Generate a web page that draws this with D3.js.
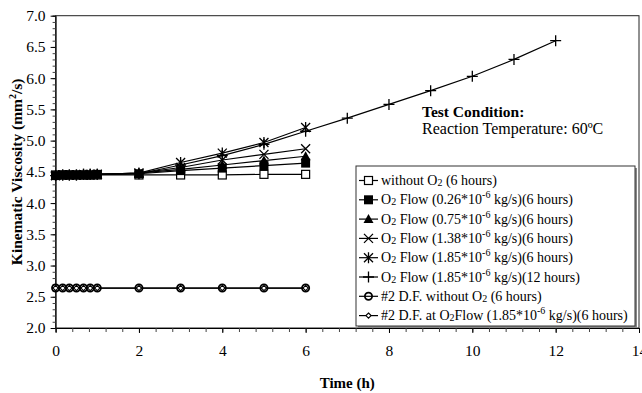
<!DOCTYPE html>
<html>
<head>
<meta charset="utf-8">
<script src="https://cdn.jsdelivr.net/npm/d3@7"></script>
<style>
  html, body { margin: 0; padding: 0; background: #fff; }
  svg { display: block; font-family: "Liberation Serif", "Times New Roman", serif; }
</style>
</head>
<body>
<svg id="chart" width="642" height="393"></svg>
<script>
// Sampling times (hours)
const timeShort = [0, 0.17, 0.33, 0.5, 0.67, 0.83, 1, 2, 3, 4, 5, 6];
const timeLong = [0, 0.17, 0.33, 0.5, 0.67, 0.83, 1, 2, 3, 4, 5, 6, 7, 8, 9, 10, 11, 12];

// Kinematic viscosity (mm^2/s)
const withoutO2   = [4.45, 4.45, 4.45, 4.45, 4.45, 4.45, 4.45, 4.45, 4.45, 4.45, 4.46, 4.46];
const flow026     = [4.44, 4.45, 4.45, 4.45, 4.45, 4.45, 4.46, 4.47, 4.52, 4.56, 4.60, 4.64];
const flow075     = [4.44, 4.45, 4.45, 4.45, 4.45, 4.46, 4.46, 4.48, 4.54, 4.61, 4.68, 4.75];
const flow138     = [4.44, 4.45, 4.45, 4.45, 4.45, 4.46, 4.46, 4.48, 4.57, 4.69, 4.78, 4.87];
const flow185     = [4.44, 4.45, 4.45, 4.45, 4.46, 4.46, 4.46, 4.48, 4.65, 4.80, 4.97, 5.21];
const flow185Long = [4.44, 4.45, 4.45, 4.45, 4.46, 4.46, 4.46, 4.47, 4.61, 4.76, 4.94, 5.15, 5.36, 5.58, 5.80, 6.03, 6.30, 6.60];
const dfWithoutO2 = [2.64, 2.64, 2.64, 2.64, 2.64, 2.64, 2.64, 2.64, 2.64, 2.64, 2.64, 2.64];
const dfFlow185   = [2.64, 2.64, 2.64, 2.64, 2.64, 2.64, 2.64, 2.64, 2.64, 2.64, 2.64, 2.64];

const xTicks = [0, 2, 4, 6, 8, 10, 12, 14];
const yTicks = [2.0, 2.5, 3.0, 3.5, 4.0, 4.5, 5.0, 5.5, 6.0, 6.5, 7.0];

// legend entries: [prefix, subscript, middle, superscript, suffix]
const series = [
  { x: timeShort, y: withoutO2,   marker: "squareOpen", label: ["without O", "2", " (6 hours)", "", ""] },
  { x: timeShort, y: flow026,     marker: "squareFill", label: ["O", "2", " Flow (0.26*10", "-6", " kg/s)(6 hours)"] },
  { x: timeShort, y: flow075,     marker: "triangle",   label: ["O", "2", " Flow (0.75*10", "-6", " kg/s)(6 hours)"] },
  { x: timeShort, y: flow138,     marker: "cross",      label: ["O", "2", " Flow (1.38*10", "-6", " kg/s)(6 hours)"] },
  { x: timeShort, y: flow185,     marker: "star",       label: ["O", "2", " Flow (1.85*10", "-6", " kg/s)(6 hours)"] },
  { x: timeLong,  y: flow185Long, marker: "plus",       label: ["O", "2", " Flow (1.85*10", "-6", " kg/s)(12 hours)"] },
  { x: timeShort, y: dfWithoutO2, marker: "circle",     label: ["#2 D.F. without O", "2", " (6 hours)", "", ""] },
  { x: timeShort, y: dfFlow185,   marker: "diamond",    label: ["#2 D.F. at O", "2", "Flow (1.85*10", "-6", " kg/s)(6 hours)"] }
];

const svg = d3.select("#chart");
const plotLeft = 55.6, plotRight = 639, plotTop = 15.7, plotBottom = 328;

const x = d3.scaleLinear().domain([0, 14]).range([plotLeft, plotRight]);
const y = d3.scaleLinear().domain([2, 7]).range([plotBottom, plotTop]);

// plot frame
svg.append("rect")
  .attr("x", plotLeft).attr("y", plotTop)
  .attr("width", plotRight - plotLeft).attr("height", plotBottom - plotTop)
  .attr("fill", "none").attr("stroke", "#222").attr("stroke-width", 1);

// y axis: minor ticks every 0.1, labels every 0.5
const yAxisMinor = d3.axisLeft(y).tickValues(d3.range(20, 71).map(d => d / 10)).tickSize(3).tickFormat("");
svg.append("g").attr("transform", `translate(${plotLeft},0)`).call(yAxisMinor)
  .call(g => g.select(".domain").attr("stroke", "#000"))
  .call(g => g.selectAll(".tick line").attr("stroke", "#444"));
const yAxis = d3.axisLeft(y).tickValues(yTicks).tickSize(5).tickPadding(5).tickFormat(d3.format(".1f"));
svg.append("g").attr("transform", `translate(${plotLeft},0)`).call(yAxis)
  .call(g => g.select(".domain").remove())
  .call(g => g.selectAll("text").attr("font-size", 15.5).attr("font-family", "Liberation Serif").attr("fill", "#000"));

// x axis: minor ticks every 0.4, labels every 2
const xAxisMinor = d3.axisBottom(x).tickValues(d3.range(0, 36).map(d => d * 0.4)).tickSize(4).tickFormat("");
svg.append("g").attr("transform", `translate(0,${plotBottom})`).call(xAxisMinor)
  .call(g => g.select(".domain").attr("stroke", "#000"))
  .call(g => g.selectAll(".tick line").attr("stroke", "#444"));
const xAxis = d3.axisBottom(x).tickValues(xTicks).tickSize(5).tickPadding(12).tickFormat(d3.format("d"));
svg.append("g").attr("transform", `translate(0,${plotBottom})`).call(xAxis)
  .call(g => g.select(".domain").remove())
  .call(g => g.selectAll("text").attr("font-size", 15.5).attr("font-family", "Liberation Serif").attr("fill", "#000"));

// axis titles
svg.append("text")
  .attr("x", (plotLeft + plotRight) / 2).attr("y", 388)
  .attr("text-anchor", "middle").attr("font-weight", "bold").attr("font-size", 15)
  .text("Time (h)");

const yTitle = svg.append("text")
  .attr("transform", `translate(22,${(plotTop + plotBottom) / 2}) rotate(-90)`)
  .attr("text-anchor", "middle").attr("font-weight", "bold").attr("font-size", 15.5);
yTitle.append("tspan").text("Kinematic Viscosity (mm");
yTitle.append("tspan").attr("font-size", 10).attr("dy", -6).text("2");
yTitle.append("tspan").attr("dy", 6).text("/s)");

// marker drawing
function drawMarker(g, type, cx, cy) {
  const k = g.append("g").attr("transform", `translate(${cx},${cy})`);
  switch (type) {
    case "squareOpen":
      k.append("rect").attr("x", -4).attr("y", -4).attr("width", 8).attr("height", 8)
        .attr("fill", "#fff").attr("stroke", "#000").attr("stroke-width", 1.2);
      break;
    case "squareFill":
      k.append("rect").attr("x", -4.5).attr("y", -4.5).attr("width", 9).attr("height", 9).attr("fill", "#000");
      break;
    case "triangle":
      k.append("path").attr("d", "M0,-5L5,4L-5,4Z").attr("fill", "#000");
      break;
    case "cross":
      k.append("path").attr("d", "M-4.5,-4.5L4.5,4.5M-4.5,4.5L4.5,-4.5")
        .attr("stroke", "#000").attr("stroke-width", 1.3);
      break;
    case "star":
      k.append("path").attr("d", "M-4.5,-4.5L4.5,4.5M-4.5,4.5L4.5,-4.5M0,-5.5L0,5.5")
        .attr("stroke", "#000").attr("stroke-width", 1.3);
      break;
    case "plus":
      k.append("path").attr("d", "M-5.5,0L5.5,0M0,-5.5L0,5.5")
        .attr("stroke", "#000").attr("stroke-width", 1.3);
      break;
    case "circle":
      k.append("circle").attr("r", 3.6).attr("fill", "none")
        .attr("stroke", "#000").attr("stroke-width", 1.8);
      break;
    case "diamond":
      k.append("path").attr("d", "M0,-2.6L2.6,0L0,2.6L-2.6,0Z")
        .attr("fill", "#fff").attr("stroke", "#000").attr("stroke-width", 1.1);
      break;
  }
}

const line = d3.line().x(d => x(d[0])).y(d => y(d[1]));
const plot = svg.append("g");
series.forEach(s => {
  const pts = s.x.map((t, i) => [t, s.y[i]]);
  const g = plot.append("g");
  g.append("path").attr("d", line(pts)).attr("fill", "none")
    .attr("stroke", "#000").attr("stroke-width", 1.2);
  pts.forEach(p => drawMarker(g, s.marker, x(p[0]), y(p[1])));
});

// annotation
svg.append("text").attr("x", 422).attr("y", 117)
  .attr("font-weight", "bold").attr("font-size", 15.5).text("Test Condition:");
svg.append("text").attr("x", 422).attr("y", 134)
  .attr("font-size", 16).text("Reaction Temperature: 60ºC");

// legend
const lg = svg.append("g");
const lgX = 356, lgY = 166, lgW = 279, lgH = 160;
lg.append("rect").attr("x", lgX + 2).attr("y", lgY + 2).attr("width", lgW).attr("height", lgH).attr("fill", "#888");
lg.append("rect").attr("x", lgX).attr("y", lgY).attr("width", lgW).attr("height", lgH)
  .attr("fill", "#fff").attr("stroke", "#333").attr("stroke-width", 1);
series.forEach((s, i) => {
  const cy = 180.5 + i * 19.3;
  lg.append("line").attr("x1", 359).attr("x2", 378).attr("y1", cy).attr("y2", cy)
    .attr("stroke", "#000").attr("stroke-width", 1.2);
  drawMarker(lg, s.marker, 368.5, cy);
  const t = lg.append("text").attr("x", 381).attr("y", cy + 4.5).attr("font-size", 14);
  const [a, sub, b, sup, c] = s.label;
  t.append("tspan").text(a);
  t.append("tspan").attr("font-size", 10).attr("dy", 1).text(sub);
  t.append("tspan").attr("dy", -1).text(b);
  if (sup) {
    t.append("tspan").attr("font-size", 10).attr("dy", -6).text(sup);
    t.append("tspan").attr("dy", 6).text(c);
  }
});
</script>
</body>
</html>
